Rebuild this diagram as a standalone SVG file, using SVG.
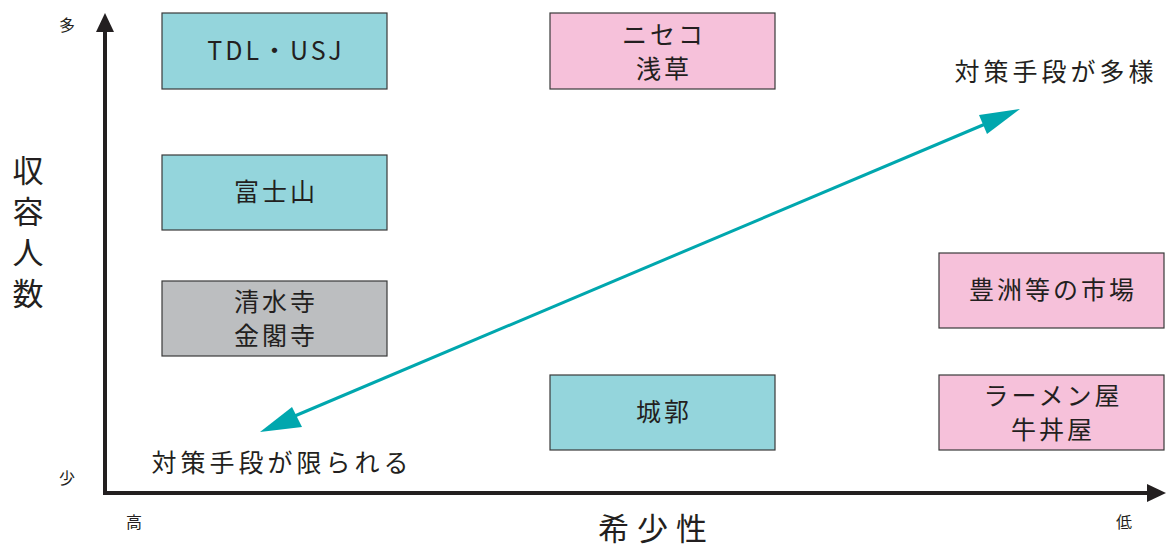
<svg xmlns="http://www.w3.org/2000/svg" width="1167" height="549" viewBox="0 0 1167 549">
<style>
.box{stroke:#3a3a3a;stroke-width:1.2}
.teal{fill:#94d5dc}
.pink{fill:#f6c1da}
.gray{fill:#bcbec0}
text{font-family:"Noto Sans CJK JP","Liberation Sans",sans-serif;fill:#231f20}
.lbl{font-size:25px;text-anchor:middle;letter-spacing:3px}
.sm{font-size:16px}
.big{font-size:31px}
</style>
<rect width="1167" height="549" fill="#fff"/>
<g id="axes">
<line x1="105" y1="493" x2="105" y2="32" stroke="#231f20" stroke-width="4"/>
<path d="M105,13 L96,32 L114,32 z" fill="#231f20"/>
<line x1="103" y1="493" x2="1148" y2="493" stroke="#231f20" stroke-width="4"/>
<path d="M1166,493 L1147,484 L1147,502 z" fill="#231f20"/>
<text class="sm" x="59" y="31">多</text>
<text class="sm" x="59" y="484">少</text>
<text class="sm" x="126" y="528">高</text>
<text class="sm" x="1116" y="528">低</text>
<text class="big" x="28" y="155" style="writing-mode:vertical-rl;letter-spacing:10px">収容人数</text>
<text class="big" x="598" y="540" letter-spacing="8">希少性</text>
</g>
<g id="connectors">
<line x1="290" y1="418" x2="990" y2="122" stroke="#00a7ae" stroke-width="3"/>
<path d="M260,432 L292,407 L302,427 z" fill="#00a7ae"/>
<path d="M1020,109 L979,115 L987,134 z" fill="#00a7ae"/>
</g>
<text class="lbl" x="1056" y="81" style="letter-spacing:4px">対策手段が多様</text>
<text class="lbl" x="282" y="472" style="letter-spacing:4px">対策手段が限られる</text>
<g id="n-tdl"><rect class="box teal" x="162" y="13" width="225" height="76"/><text class="lbl" x="276" y="60">TDL・USJ</text></g>
<g id="n-fuji"><rect class="box teal" x="162" y="155" width="225" height="75"/><text class="lbl" x="276" y="201">富士山</text></g>
<g id="n-kiyomizu"><rect class="box gray" x="162" y="281" width="225" height="75"/><text class="lbl" x="276" y="311">清水寺</text><text class="lbl" x="276" y="345">金閣寺</text></g>
<g id="n-niseko"><rect class="box pink" x="550" y="13" width="225" height="76"/><text class="lbl" x="664" y="44">ニセコ</text><text class="lbl" x="664" y="78">浅草</text></g>
<g id="n-castle"><rect class="box teal" x="550" y="375" width="225" height="75"/><text class="lbl" x="664" y="421">城郭</text></g>
<g id="n-toyosu"><rect class="box pink" x="939" y="253" width="225" height="75"/><text class="lbl" x="1053" y="299">豊洲等の市場</text></g>
<g id="n-ramen"><rect class="box pink" x="939" y="375" width="225" height="75"/><text class="lbl" x="1053" y="405">ラーメン屋</text><text class="lbl" x="1053" y="439">牛丼屋</text></g>
</svg>
